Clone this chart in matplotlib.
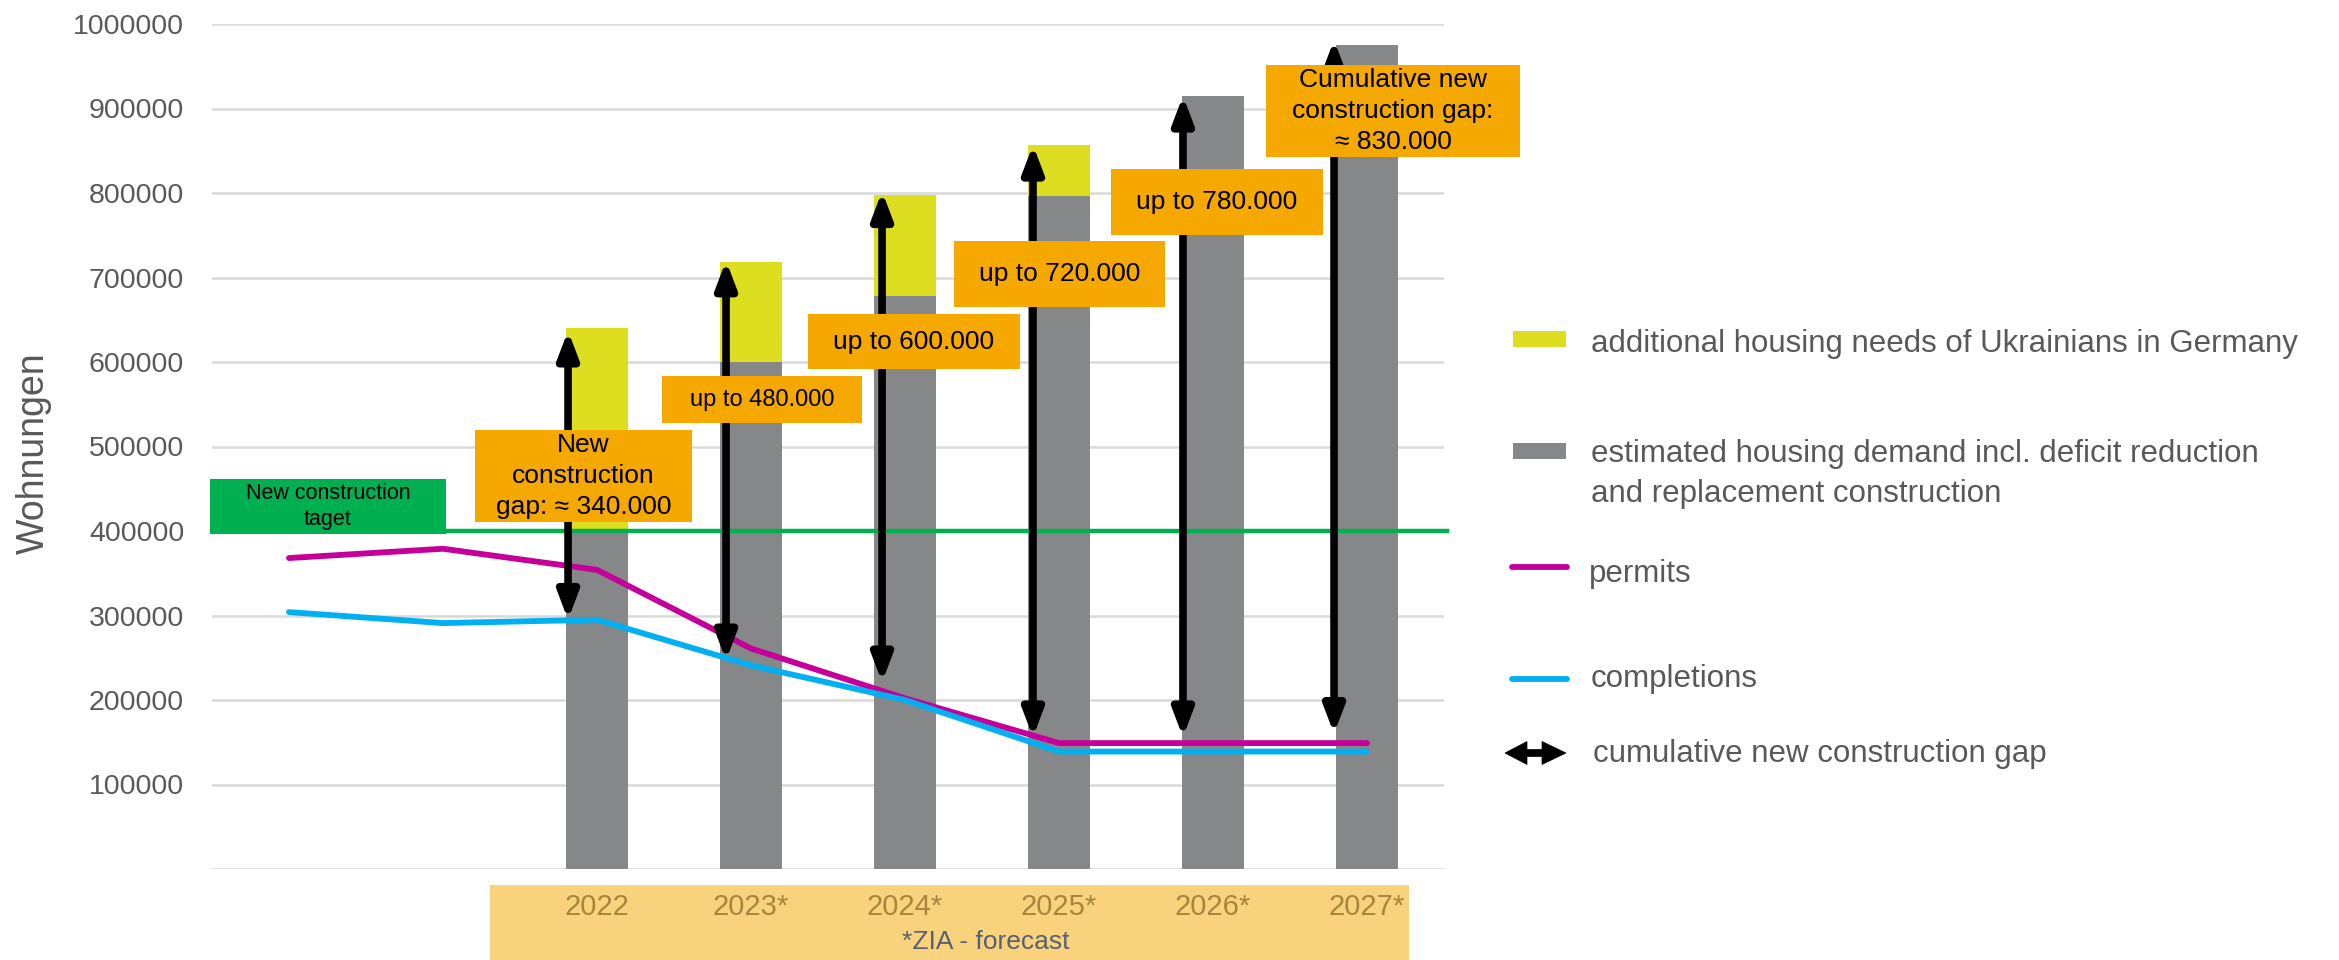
import numpy as np
import matplotlib
matplotlib.use("Agg")
import matplotlib.pyplot as plt
from matplotlib.patches import Rectangle, Polygon
from matplotlib.lines import Line2D
from matplotlib import transforms

plt.rcParams['font.family'] = ['Liberation Sans', 'DejaVu Sans']

# ---------------- data ----------------
categories = ["2020", "2021", "2022", "2023*", "2024*", "2025*", "2026*", "2027*"]
tick_labels = ["", "", "2022", "2023*", "2024*", "2025*", "2026*", "2027*"]
demand = [np.nan, np.nan, 400000, 600000, 678000, 797000, 915000, 975000]
ukrainian_needs = [np.nan, np.nan, 240000, 118000, 120000, 60000, 0, 0]
permits = [368000, 379000, 354000, 261000, 202000, 149000, 149000, 149000]
completions = [304000, 291000, 295000, 241000, 200000, 139000, 139000, 139000]
target = 400000
y_ticks = [100000, 200000, 300000, 400000, 500000, 600000, 700000, 800000, 900000, 1000000]

gap_index = [2, 3, 4, 5, 6, 7]
gap_top = [637000, 720000, 802000, 857000, 915000, 981000]
gap_bottom = [295000, 247000, 221000, 156000, 156000, 160000]
gap_labels = ["New\nconstruction\ngap: \u2248 340.000", "up to 480.000", "up to 600.000",
              "up to 720.000", "up to 780.000", "Cumulative new\nconstruction gap:\n\u2248 830.000"]

legend_labels = ["additional housing needs of Ukrainians in Germany",
                 "estimated housing demand incl. deficit reduction\nand replacement construction",
                 "permits", "completions", "cumulative new construction gap"]

# ---------------- styles ----------------
C_YELLOW = "#DEDE20"
C_GRAY = "#868788"
C_MAGENTA = "#C5009A"
C_CYAN = "#00B0F0"
C_GREEN = "#00B050"
C_ORANGE = "#F5A800"
C_LIGHT = "#F9D27E"
C_TEXT = "#595959"
C_GRID = "#D9D9D9"

W, H = 2339, 960
fig = plt.figure(figsize=(W / 100, H / 100), dpi=100)
ax = fig.add_axes([212 / W, 1 - 869 / H, 1232 / W, 845 / H])
ax.set_xlim(-0.5, 7.5)
ax.set_ylim(0, 1000000)
for s in ax.spines.values():
    s.set_visible(False)

for v in [0] + y_ticks:
    ax.axhline(v, color=C_GRID, lw=1.8, zorder=0)

x = np.arange(len(categories))
idx = [i for i in range(len(categories)) if not np.isnan(demand[i])]
ax.bar([x[i] for i in idx], [demand[i] for i in idx], width=0.4, color=C_GRAY, zorder=2)
ax.bar([x[i] for i in idx], [ukrainian_needs[i] for i in idx], width=0.4,
       bottom=[demand[i] for i in idx], color=C_YELLOW, zorder=2)

ax.plot([-0.5, 7.52], [target, target], color=C_GREEN, lw=3.2, zorder=3, clip_on=False)

ax.plot(x, permits, color=C_MAGENTA, lw=4.2, zorder=4, solid_capstyle='round', solid_joinstyle='round')
ax.plot(x, completions, color=C_CYAN, lw=4.2, zorder=4, solid_capstyle='round', solid_joinstyle='round')

# gap arrows
arrow_offsets = [-0.188, -0.162, -0.149, -0.169, -0.195, -0.214]
for gi, top, bot, off in zip(gap_index, gap_top, gap_bottom, arrow_offsets):
    ax.annotate('', xy=(x[gi] + off, top), xytext=(x[gi] + off, bot),
                arrowprops=dict(arrowstyle='<|-|>,head_length=1.0,head_width=0.38',
                                mutation_scale=16, lw=5.5, color='black',
                                shrinkA=0, shrinkB=0),
                zorder=5)

# label boxes (x centre, y centre, width, height, fontsize)
box_layout = [(1.912, 464900, 1.409, 108800, 19),
              (3.071, 555400, 1.299, 55600, 17),
              (4.058, 624000, 1.377, 65100, 19),
              (5.003, 703900, 1.370, 78100, 19),
              (6.026, 789000, 1.377, 78100, 19),
              (7.169, 896700, 1.649, 108800, 19)]
for (xc, yc, bw, bh, fs), lab in zip(box_layout, gap_labels):
    ax.add_patch(Rectangle((xc - bw / 2, yc - bh / 2), bw, bh, facecolor=C_ORANGE,
                           edgecolor='none', zorder=6, clip_on=False))
    ax.text(xc, yc, lab, ha='center', va='center', fontsize=fs, color='black',
            linespacing=1.36, zorder=7, clip_on=False)

# target label box
ax.add_patch(Rectangle((0.253 - 0.766, 428800 - 32550), 1.532, 65100, facecolor=C_GREEN,
                       edgecolor='none', zorder=6, clip_on=False))
ax.text(0.253, 428800, "New construction\ntaget", ha='center', va='center', fontsize=15.5,
        color='black', linespacing=1.34, zorder=7)

# axes ticks
ax.set_yticks(y_ticks)
ax.set_yticklabels([str(v) for v in y_ticks])
ax.tick_params(axis='y', length=0, pad=20, labelsize=20.5, labelcolor=C_TEXT)
ax.set_xticks(x)
ax.set_xticklabels(tick_labels)
ax.tick_params(axis='x', length=0, pad=17, labelsize=21, labelcolor="#A6863C")

ax.set_ylabel("Wohnungen", fontsize=27, color=C_TEXT)
ax.yaxis.label.set_verticalalignment('center')
ax.yaxis.set_label_coords(-0.1445, 0.492)

# forecast band below axis
blend = transforms.blended_transform_factory(ax.transData, fig.transFigure)
ax.add_patch(Rectangle((1.305, 0), 7.273 - 1.305, 1 - 885 / H, transform=blend,
                       facecolor=C_LIGHT, edgecolor='none', zorder=0, clip_on=False))
ax.text(4.526, 1 - 942 / H, "*ZIA - forecast", transform=blend, ha='center', va='center',
        fontsize=19, color="#5A6070", clip_on=False)

# ---------------- legend ----------------
def fx(px):
    return px / W

def fy(py):
    return 1 - py / H

fig.add_artist(Rectangle((fx(1513), fy(347)), 53 / W, 16 / H, transform=fig.transFigure,
                         facecolor=C_YELLOW, edgecolor='none'))
fig.add_artist(Rectangle((fx(1513), fy(459)), 53 / W, 16 / H, transform=fig.transFigure,
                         facecolor=C_GRAY, edgecolor='none'))
fig.add_artist(Line2D([fx(1512), fx(1567)], [fy(567), fy(567)], transform=fig.transFigure,
                      color=C_MAGENTA, lw=4.2, solid_capstyle='round'))
fig.add_artist(Line2D([fx(1512), fx(1567)], [fy(679), fy(679)], transform=fig.transFigure,
                      color=C_CYAN, lw=4.2, solid_capstyle='round'))
# double-headed arrow glyph
arrow_px = [(1505, 753), (1527, 741.5), (1527, 749.5), (1542, 749.5), (1542, 741.5),
            (1566, 753), (1542, 764.5), (1542, 756.5), (1527, 756.5), (1527, 764.5)]
fig.add_artist(Polygon([(fx(a), fy(b)) for a, b in arrow_px], closed=True,
                       transform=fig.transFigure, facecolor='black', edgecolor='black', lw=0.5))

legend_baselines = [351.7, 501.7, 581.7, 686.7, 761.7]
legend_x = [1591, 1591, 1589, 1591, 1593]
for lab, by, lx in zip(legend_labels, legend_baselines, legend_x):
    fig.text(fx(lx), fy(by), lab, ha='left', va='baseline', fontsize=22.5,
             color=C_TEXT, linespacing=1.42)

fig.savefig("out.png", dpi=100)
